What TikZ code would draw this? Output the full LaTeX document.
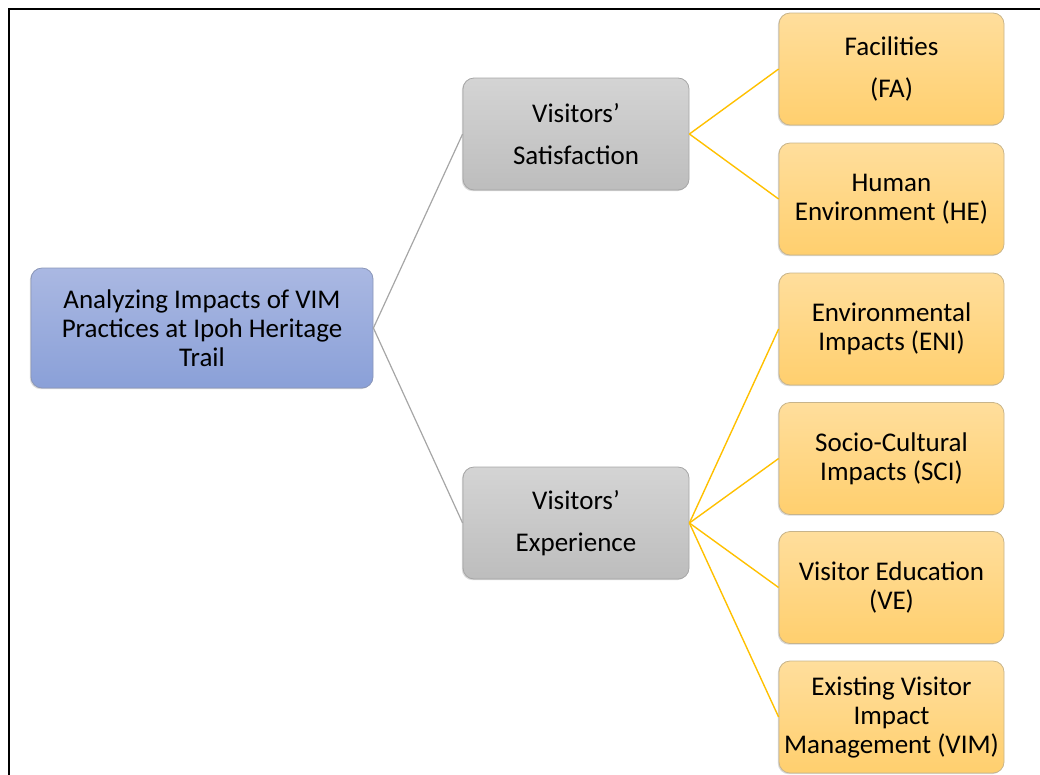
\documentclass[tikz,border=0pt]{standalone}
\usepackage{fontspec}
\setmainfont{Carlito}
\usetikzlibrary{shadows}
\definecolor{rootT}{HTML}{AAB8E2}
\definecolor{rootB}{HTML}{8AA0D8}
\definecolor{rootD}{HTML}{8A96B8}
\definecolor{midT}{HTML}{D4D4D4}
\definecolor{midB}{HTML}{BDBDBD}
\definecolor{midD}{HTML}{A6A6A6}
\definecolor{leafT}{HTML}{FFDE9C}
\definecolor{leafB}{HTML}{FFCF6E}
\definecolor{leafD}{HTML}{C8B48A}
\definecolor{grayline}{HTML}{A6A6A6}
\definecolor{goldline}{HTML}{FFC000}
\begin{document}
\begin{tikzpicture}[x=1pt,y=-1pt,
  box/.style={rounded corners=11pt, line width=0.8pt, align=center, inner sep=0pt,
    drop shadow={shadow xshift=-1.2pt, shadow yshift=-1.2pt, opacity=0.25, fill=black!60}},
  rootbox/.style={box, draw=rootD, top color=rootT, bottom color=rootB,
    minimum width=342pt, minimum height=120pt, font=\fontsize{27}{29}\selectfont},
  midbox/.style={box, draw=midD, top color=midT, bottom color=midB,
    minimum width=226pt, minimum height=112pt, font=\fontsize{27}{42}\selectfont},
  leafbox/.style={box, draw=leafD, top color=leafT, bottom color=leafB,
    minimum width=225pt, minimum height=112pt, font=\fontsize{27}{29}\selectfont},
  gline/.style={draw=grayline, line width=1.2pt},
  oline/.style={draw=goldline, line width=1.4pt}
]
\useasboundingbox (0,0) rectangle (1040,774);
% frame edges
\coordinate (ftr) at (1040,9);
\coordinate (fc) at (9,9);
\coordinate (fbl) at (9,774);
\draw[line width=2.6pt, line cap=rect] (ftr) -- (fc) -- (fbl);

% boxes
\node[rootbox] (root) at (202,328) {Analyzing Impacts of VIM\\Practices at Ipoh Heritage\\Trail};
\node[midbox] (sat) at (576,134) {Visitors’\\Satisfaction};
\node[midbox] (exp) at (576,523) {Visitors’\\Experience};
\node[leafbox, font=\fontsize{27}{42}\selectfont] (fa) at (891.5,69) {Facilities\\(FA)};
\node[leafbox] (he) at (891.5,199) {Human\\Environment (HE)};
\node[leafbox] (eni) at (891.5,329) {Environmental\\Impacts (ENI)};
\node[leafbox] (sci) at (891.5,458.5) {Socio-Cultural\\Impacts (SCI)};
\node[leafbox] (ve) at (891.5,587.5) {Visitor Education\\(VE)};
\node[leafbox] (vim) at (891.5,717) {Existing Visitor\\Impact\\Management (VIM)};

% connectors
\draw[gline] (root.east) -- (sat.west);
\draw[gline] (root.east) -- (exp.west);
\draw[oline] (sat.east) -- (fa.west);
\draw[oline] (sat.east) -- (he.west);
\draw[oline] (exp.east) -- (eni.west);
\draw[oline] (exp.east) -- (sci.west);
\draw[oline] (exp.east) -- (ve.west);
\draw[oline] (exp.east) -- (vim.west);
\end{tikzpicture}
\end{document}
